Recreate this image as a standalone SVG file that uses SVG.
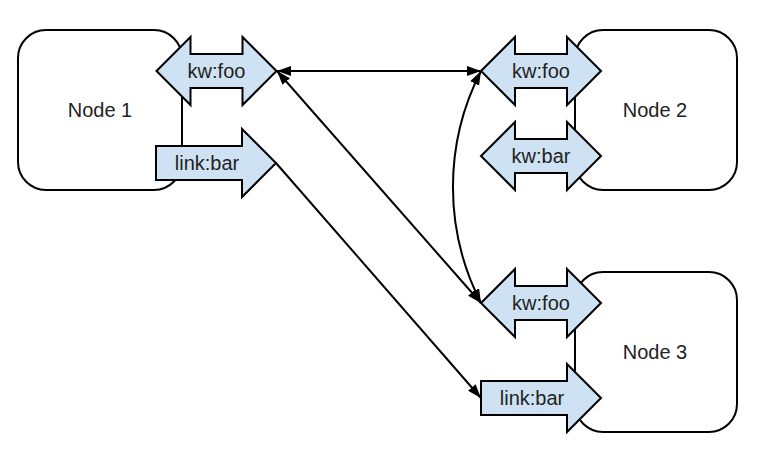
<svg xmlns="http://www.w3.org/2000/svg" width="765" height="462" viewBox="0 0 765 462">
<style>
.node{fill:#ffffff;stroke:#000;stroke-width:2}
.port{fill:#cfe2f3;stroke:#000;stroke-width:2;stroke-linejoin:miter}
.lbl{font-family:"Liberation Sans",Arial,sans-serif;font-size:20px;fill:#222;text-anchor:middle}
.conn{fill:none;stroke:#000;stroke-width:2}
</style>
<defs>
<path id="dbl" d="M -60 0 L -26 -34 L -26 -17 L 26 -17 L 26 -34 L 60 0 L 26 34 L 26 17 L -26 17 L -26 34 Z"/>
<path id="sgl" d="M -60 -17 L 26 -17 L 26 -34 L 60 0 L 26 34 L 26 17 L -60 17 Z"/>
<marker id="ah" viewBox="0 0 14 10" refX="14" refY="5" markerWidth="14" markerHeight="10" markerUnits="userSpaceOnUse" orient="auto-start-reverse">
<path d="M0 0 L14 5 L0 10 Z" fill="#000"/>
</marker>
</defs>
<rect width="765" height="462" fill="#fff"/>
<g id="node1">
<rect class="node" x="18" y="30" width="164" height="160" rx="28"/>
<text class="lbl" x="100" y="117">Node 1</text>
</g>
<g id="node2">
<rect class="node" x="575" y="30" width="162" height="160" rx="28"/>
<text class="lbl" x="655" y="117">Node 2</text>
</g>
<g id="node3">
<rect class="node" x="575" y="272" width="162" height="160" rx="28"/>
<text class="lbl" x="655" y="359">Node 3</text>
</g>
<g id="n1-kwfoo">
<use href="#dbl" class="port" x="216.5" y="71"/>
<text class="lbl" x="216.5" y="78">kw:foo</text>
</g>
<g id="n1-linkbar">
<use href="#sgl" class="port" x="216" y="163"/>
<text class="lbl" x="207" y="170">link:bar</text>
</g>
<g id="n2-kwfoo">
<use href="#dbl" class="port" x="541" y="71"/>
<text class="lbl" x="541" y="78">kw:foo</text>
</g>
<g id="n2-kwbar">
<use href="#dbl" class="port" x="541" y="156"/>
<text class="lbl" x="541" y="163">kw:bar</text>
</g>
<g id="n3-kwfoo">
<use href="#dbl" class="port" x="541" y="303"/>
<text class="lbl" x="541" y="310">kw:foo</text>
</g>
<g id="n3-linkbar">
<use href="#sgl" class="port" x="541" y="398"/>
<text class="lbl" x="532" y="405">link:bar</text>
</g>
<g id="connectors">
<path class="conn" d="M 277 71 L 481 71" marker-start="url(#ah)" marker-end="url(#ah)"/>
<path class="conn" d="M 277 71 L 481 303" marker-start="url(#ah)" marker-end="url(#ah)"/>
<path class="conn" d="M 481 71 A 254 254 0 0 0 481 303" marker-start="url(#ah)" marker-end="url(#ah)"/>
<path class="conn" d="M 276 163 L 481 398" marker-end="url(#ah)"/>
</g>
</svg>
